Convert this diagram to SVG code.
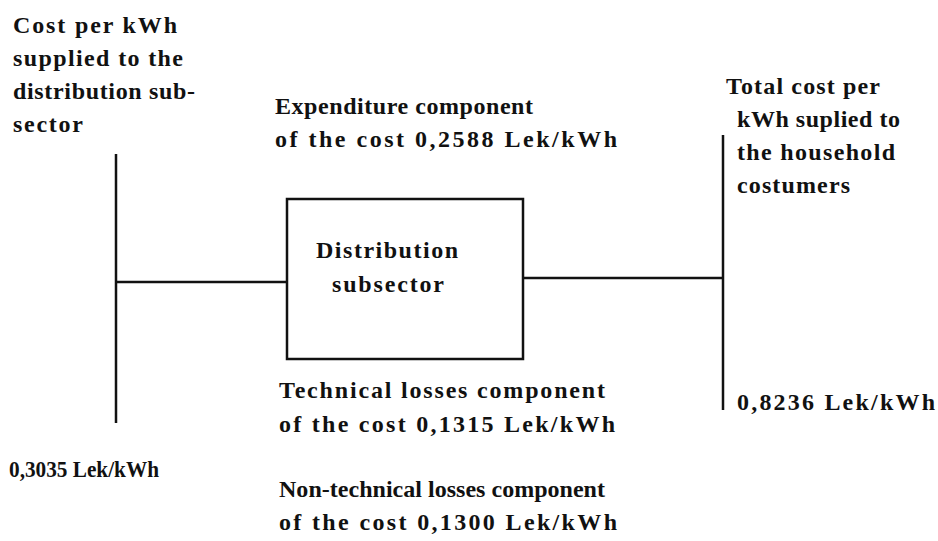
<svg xmlns="http://www.w3.org/2000/svg" width="938" height="541" viewBox="0 0 938 541">
<style>
.t{font-family:"Liberation Serif","Times New Roman",serif;font-weight:bold;font-size:24px;fill:#111}
.ln{stroke:#111;stroke-width:2.5;fill:none}
</style>
<rect width="938" height="541" fill="#fff"/>
<g id="connectors">
<line class="ln" x1="116" y1="154" x2="116" y2="423"/>
<line class="ln" x1="116" y1="282" x2="287" y2="282"/>
<line class="ln" x1="523" y1="278" x2="723" y2="278"/>
<line class="ln" x1="723" y1="135" x2="723" y2="410"/>
</g>
<g id="source">
<text class="t" x="13" y="33" textLength="164" lengthAdjust="spacing">Cost per kWh</text>
<text class="t" x="13" y="66" textLength="170" lengthAdjust="spacing">supplied to the</text>
<text class="t" x="13" y="99" textLength="182" lengthAdjust="spacing">distribution sub-</text>
<text class="t" x="13" y="132" textLength="70" lengthAdjust="spacing">sector</text>
<text class="t" x="9" y="477" textLength="150" lengthAdjust="spacingAndGlyphs">0,3035 Lek/kWh</text>
</g>
<g id="expenditure">
<text class="t" x="275" y="114" textLength="258" lengthAdjust="spacing">Expenditure component</text>
<text class="t" x="275" y="147" textLength="342" lengthAdjust="spacing">of the cost  0,2588 Lek/kWh</text>
</g>
<g id="distribution">
<rect class="ln" x="287" y="199" width="236" height="160"/>
<text class="t" x="316" y="258" textLength="142" lengthAdjust="spacing">Distribution</text>
<text class="t" x="332" y="292" textLength="112" lengthAdjust="spacing">subsector</text>
</g>
<g id="technical">
<text class="t" x="279" y="398" textLength="326" lengthAdjust="spacing">Technical losses component</text>
<text class="t" x="279" y="432" textLength="336" lengthAdjust="spacing">of the cost  0,1315 Lek/kWh</text>
</g>
<g id="nontechnical">
<text class="t" x="279" y="497" textLength="326" lengthAdjust="spacing">Non-technical losses component</text>
<text class="t" x="279" y="530" textLength="338" lengthAdjust="spacing">of the cost  0,1300 Lek/kWh</text>
</g>
<g id="total">
<text class="t" x="726" y="94" textLength="154" lengthAdjust="spacing">Total cost per</text>
<text class="t" x="737" y="127" textLength="163" lengthAdjust="spacing">kWh suplied to</text>
<text class="t" x="737" y="160" textLength="158" lengthAdjust="spacing">the household</text>
<text class="t" x="737" y="193" textLength="113" lengthAdjust="spacing">costumers</text>
<text class="t" x="737" y="410" textLength="198" lengthAdjust="spacing">0,8236 Lek/kWh</text>
</g>
</svg>
